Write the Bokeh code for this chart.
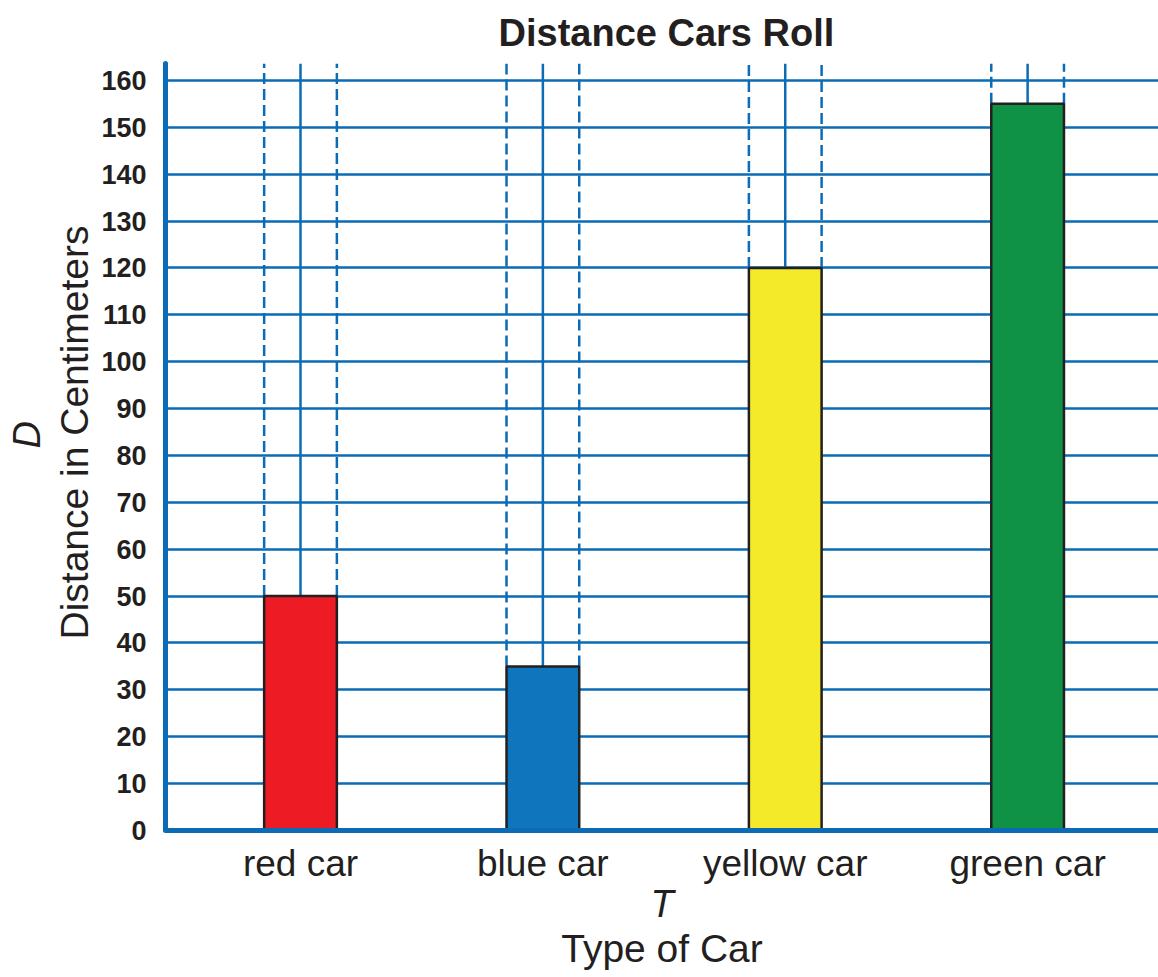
from bokeh.plotting import figure
from bokeh.models import Range1d, FixedTicker, Title, ColumnDataSource
from bokeh.embed import file_html
from bokeh.resources import INLINE

# ---- data ----
categories = ["red car", "blue car", "yellow car", "green car"]
distances = [50, 35, 120, 155]
bar_colors = ["#ed1c24", "#0f75bc", "#f4ea2a", "#0f9245"]
y_ticks = list(range(0, 161, 10))
title_text = "Distance Cars Roll"
x_var, x_name = "T", "Type of Car"
y_var, y_name = "D", "Distance in Centimeters"

BLUE = "#0b6cb5"
INK = "#231f20"
FONT = "Liberation Sans"
bar_w = 0.3
y_top = 163.6

xs = list(range(len(categories)))
src = ColumnDataSource(dict(
    x=xs, top=distances, color=bar_colors,
    left=[x - bar_w / 2 for x in xs], right=[x + bar_w / 2 for x in xs],
    ytop=[y_top] * len(xs),
))

p = figure(frame_width=993, frame_height=767,
           x_range=Range1d(-0.557, 3.54), y_range=Range1d(0, y_top),
           output_backend="svg", toolbar_location=None,
           min_border_left=165, min_border_right=0, min_border_top=62,
           min_border_bottom=146)
p.outline_line_color = None
p.background_fill_color = "white"

p.title.text = title_text
p.title.text_font = FONT
p.title.text_font_size = "38px"
p.title.text_font_style = "bold"
p.title.text_color = INK
p.title.align = "left"
p.title.offset = 333
p.title.standoff = 19

# grid
p.xgrid.visible = False
p.ygrid.ticker = FixedTicker(ticks=y_ticks)
p.ygrid.grid_line_color = BLUE
p.ygrid.grid_line_width = 2.5

# vertical guide lines
p.segment(x0="x", y0="top", x1="x", y1="ytop", source=src, line_color=BLUE, line_width=2.5)
p.segment(x0="left", y0="top", x1="left", y1="ytop", source=src, line_color=BLUE,
          line_width=2.5, line_dash="11 5")
p.segment(x0="right", y0="top", x1="right", y1="ytop", source=src, line_color=BLUE,
          line_width=2.5, line_dash="11 5")

# bars
p.vbar(x="x", top="top", bottom=0, width=bar_w, source=src, fill_color="color",
       line_color=INK, line_width=2.5)

# y axis
ya = p.yaxis[0]
ya.ticker = FixedTicker(ticks=y_ticks)
ya.axis_line_color = BLUE
ya.axis_line_width = 5
ya.axis_line_cap = "round"
ya.major_tick_line_color = None
ya.major_tick_out = 0
ya.major_tick_in = 0
ya.minor_tick_line_color = None
ya.major_label_text_font = FONT
ya.major_label_text_font_size = "27px"
ya.major_label_text_font_style = "bold"
ya.major_label_text_color = INK
ya.major_label_standoff = 19

# x axis
xa = p.xaxis[0]
xa.ticker = FixedTicker(ticks=xs)
xa.major_label_overrides = {x: c for x, c in zip(xs, categories)}
xa.axis_line_color = BLUE
xa.axis_line_width = 5
xa.major_tick_line_color = None
xa.major_tick_out = 0
xa.major_tick_in = 0
xa.minor_tick_line_color = None
xa.major_label_text_font = FONT
xa.major_label_text_font_size = "37px"
xa.major_label_text_color = INK
xa.major_label_standoff = 12
xa.axis_label = x_var
xa.axis_label_text_font = FONT
xa.axis_label_text_font_size = "38px"
xa.axis_label_text_font_style = "italic"
xa.axis_label_text_color = INK
xa.axis_label_standoff = -4

p.add_layout(Title(text=x_name, text_font=FONT, text_font_size="39px",
                   text_font_style="normal", text_color=INK, align="center",
                   standoff=-6), "below")

# y labels as titles on the left
p.add_layout(Title(text=y_name, text_font=FONT, text_font_size="39px",
                   text_font_style="normal", text_color=INK, align="left",
                   standoff=5, offset=191), "left")
p.add_layout(Title(text=y_var, text_font=FONT, text_font_size="38px",
                   text_font_style="italic", text_color=INK, align="left",
                   standoff=1, offset=382), "left")

open("out.html", "w").write(file_html(p, INLINE))
